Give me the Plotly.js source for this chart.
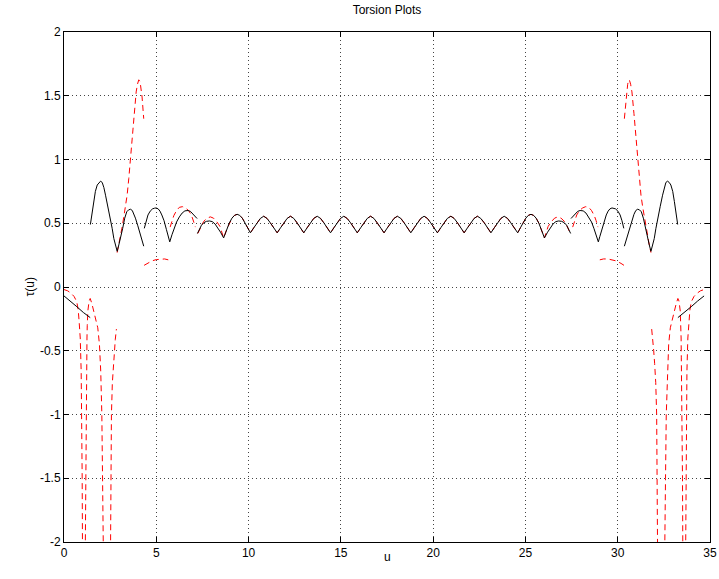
<!DOCTYPE html>
<html>
<head>
<meta charset="utf-8">
<script src="https://cdn.plot.ly/plotly-3.0.1.min.js"></script>
<style>
html,body{margin:0;padding:0;background:#fff;}
#chart{width:719px;height:579px;}
</style>
</head>
<body>
<div id="chart"></div>
<script>
// ---- tick labels ----
const xTickVals = [0, 5, 10, 15, 20, 25, 30, 35];
const xTickText = ['0', '5', '10', '15', '20', '25', '30', '35'];
const yTickVals = [-2, -1.5, -1, -0.5, 0, 0.5, 1, 1.5, 2];
const yTickText = ['-2', '-1.5', '-1', '-0.5', '0', '0.5', '1', '1.5', '2'];

// ---- black solid curve (segments) ----
const blackU1 = [0.00, 0.35, 0.70, 1.05, 1.42];
const blackTau1 = [-0.07, -0.11, -0.155, -0.20, -0.24];

const blackU2 = [1.43, 1.52, 1.61, 1.70, 1.80, 1.89, 1.98, 2.07, 2.16, 2.25, 2.38, 2.52, 2.61, 2.70, 2.79, 2.88, 2.97, 3.06, 3.18, 3.29, 3.40, 3.50, 3.60, 3.70, 3.80, 3.87, 4.00, 4.14, 4.23, 4.32];
const blackTau2 = [0.49, 0.59, 0.67, 0.75, 0.80, 0.82, 0.83, 0.82, 0.78, 0.72, 0.63, 0.54, 0.46, 0.38, 0.33, 0.28, 0.33, 0.38, 0.46, 0.54, 0.59, 0.605, 0.61, 0.60, 0.57, 0.54, 0.48, 0.41, 0.365, 0.32];

const blackU3 = [4.35, 4.45, 4.55, 4.67, 4.80, 4.90, 4.99, 5.10, 5.20, 5.30, 5.42, 5.55, 5.65, 5.73, 5.85, 5.97, 6.10, 6.25, 6.40, 6.55, 6.72, 6.85, 6.98, 7.10, 7.21];
const blackTau3 = [0.46, 0.52, 0.565, 0.595, 0.613, 0.618, 0.62, 0.613, 0.595, 0.565, 0.52, 0.45, 0.395, 0.354, 0.41, 0.46, 0.51, 0.55, 0.58, 0.597, 0.60, 0.593, 0.575, 0.555, 0.537];

const blackU4 = [7.23, 7.33, 7.45, 7.58, 7.72, 7.88, 8.03, 8.18, 8.33, 8.48, 8.65, 8.80, 8.95, 9.10, 9.24, 9.38, 9.52, 9.66, 9.80, 9.95,
  10.10, 10.28, 10.46, 10.64, 10.82, 11.00, 11.18, 11.37,
  11.55, 11.73, 11.91, 12.09, 12.27, 12.45, 12.63, 12.81,
  12.99, 13.17, 13.35, 13.53, 13.72, 13.90, 14.08, 14.26,
  14.44, 14.62, 14.80, 14.98, 15.16, 15.34, 15.53, 15.71,
  15.89, 16.07, 16.25, 16.43, 16.61, 16.79, 16.97, 17.16,
  17.34, 17.52, 17.70, 17.88, 18.06, 18.25, 18.43, 18.61,
  18.79, 18.97, 19.15, 19.33, 19.51, 19.69, 19.87, 20.05,
  20.23, 20.41, 20.59, 20.77, 20.96, 21.14, 21.32, 21.50,
  21.68, 21.86, 22.04, 22.22, 22.40, 22.58, 22.77, 22.95,
  23.13, 23.31, 23.49, 23.67, 23.85, 24.03, 24.21, 24.40,
  24.58, 24.73, 24.88, 25.02, 25.16, 25.30, 25.44, 25.58, 25.73, 25.88, 26.03, 26.20, 26.35, 26.50, 26.65, 26.80, 26.96, 27.10, 27.23, 27.35, 27.45];
const blackTau4 = [0.42, 0.455, 0.485, 0.505, 0.515, 0.518, 0.513, 0.495, 0.465, 0.43, 0.385, 0.445, 0.50, 0.54, 0.562, 0.57, 0.562, 0.54, 0.505, 0.465,
  0.425, 0.464, 0.503, 0.538, 0.555, 0.538, 0.503, 0.464,
  0.425, 0.464, 0.503, 0.538, 0.555, 0.538, 0.503, 0.464,
  0.425, 0.464, 0.503, 0.538, 0.555, 0.538, 0.503, 0.464,
  0.425, 0.464, 0.503, 0.538, 0.555, 0.538, 0.503, 0.464,
  0.425, 0.464, 0.503, 0.538, 0.555, 0.538, 0.503, 0.464,
  0.425, 0.464, 0.503, 0.538, 0.555, 0.538, 0.503, 0.464,
  0.425, 0.464, 0.503, 0.538, 0.555, 0.538, 0.503, 0.464,
  0.425, 0.464, 0.503, 0.538, 0.555, 0.538, 0.503, 0.464,
  0.425, 0.464, 0.503, 0.538, 0.555, 0.538, 0.503, 0.464,
  0.425, 0.464, 0.503, 0.538, 0.555, 0.538, 0.503, 0.464,
  0.425, 0.465, 0.505, 0.54, 0.562, 0.57, 0.562, 0.54, 0.50, 0.445, 0.385, 0.43, 0.465, 0.495, 0.513, 0.518, 0.515, 0.505, 0.485, 0.455, 0.42];

const blackU5 = [27.47, 27.58, 27.70, 27.83, 27.96, 28.13, 28.28, 28.43, 28.58, 28.71, 28.83, 28.95, 29.03, 29.13, 29.26, 29.38, 29.48, 29.58, 29.69, 29.78, 29.88, 30.01, 30.13, 30.23, 30.33];
const blackTau5 = [0.537, 0.555, 0.575, 0.593, 0.60, 0.597, 0.58, 0.55, 0.51, 0.46, 0.41, 0.354, 0.395, 0.45, 0.52, 0.565, 0.595, 0.613, 0.62, 0.618, 0.613, 0.595, 0.565, 0.52, 0.46];

const blackU6 = [30.36, 30.45, 30.54, 30.68, 30.81, 30.88, 30.98, 31.08, 31.18, 31.28, 31.39, 31.50, 31.62, 31.71, 31.80, 31.89, 31.98, 32.07, 32.16, 32.30, 32.43, 32.52, 32.61, 32.70, 32.79, 32.88, 32.98, 33.07, 33.16, 33.25];
const blackTau6 = [0.32, 0.365, 0.41, 0.48, 0.54, 0.57, 0.60, 0.61, 0.605, 0.59, 0.54, 0.46, 0.38, 0.33, 0.28, 0.33, 0.38, 0.46, 0.54, 0.63, 0.72, 0.78, 0.82, 0.83, 0.82, 0.80, 0.75, 0.67, 0.59, 0.49];

const blackU7 = [33.26, 33.63, 33.98, 34.33, 34.68];
const blackTau7 = [-0.24, -0.20, -0.155, -0.11, -0.07];

// ---- red dashed curve (segments) ----
const redU1 = [0.00, 0.20, 0.39, 0.55, 0.69, 0.77, 0.82, 0.88, 0.93, 0.96, 0.985, 1.00, 1.01];
const redTau1 = [-0.02, -0.03, -0.05, -0.075, -0.115, -0.18, -0.27, -0.40, -0.66, -1.00, -1.50, -2.00, -2.30];

const redU2 = [1.14, 1.155, 1.17, 1.18, 1.22, 1.235, 1.245, 1.26, 1.29, 1.36, 1.42, 1.51, 1.60, 1.69, 1.83, 1.92, 1.99, 2.05, 2.09, 2.14, 2.15];
const redTau2 = [-2.30, -2.00, -1.50, -1.00, -0.70, -0.55, -0.40, -0.30, -0.19, -0.11, -0.09, -0.13, -0.18, -0.23, -0.32, -0.45, -0.66, -1.00, -1.50, -2.00, -2.30];

const redU3 = [2.51, 2.52, 2.54, 2.57, 2.62, 2.68, 2.73, 2.78, 2.84];
const redTau3 = [-2.30, -2.00, -1.50, -1.00, -0.75, -0.60, -0.50, -0.41, -0.33];

const redU4 = [2.88, 2.97, 3.06, 3.15, 3.24, 3.33, 3.42, 3.51, 3.56, 3.65, 3.72, 3.80, 3.91, 3.98, 4.05, 4.10, 4.14, 4.23, 4.32];
const redTau4 = [0.27, 0.33, 0.40, 0.47, 0.55, 0.63, 0.72, 0.85, 0.94, 1.10, 1.23, 1.36, 1.53, 1.59, 1.625, 1.615, 1.59, 1.49, 1.32];

const redU5 = [4.34, 4.50, 4.77, 5.00, 5.22, 5.45, 5.65];
const redTau5 = [0.17, 0.185, 0.205, 0.215, 0.22, 0.22, 0.213];

const redU6 = [5.75, 5.85, 5.95, 6.10, 6.25, 6.42, 6.58, 6.75, 6.90, 7.03, 7.12];
const redTau6 = [0.47, 0.52, 0.56, 0.60, 0.625, 0.63, 0.62, 0.60, 0.565, 0.51, 0.47];

const redU7 = [7.25, 7.40, 7.57, 7.75, 7.93, 8.10, 8.29, 8.45];
const redTau7 = [0.42, 0.47, 0.515, 0.54, 0.55, 0.54, 0.51, 0.475];

// middle: red runs under the black curve from u = 8.65 to u = 26.03 (taken from blackU4/blackTau4)

const redU8 = [26.23, 26.39, 26.58, 26.75, 26.93, 27.11, 27.28, 27.43];
const redTau8 = [0.475, 0.51, 0.54, 0.55, 0.54, 0.515, 0.47, 0.42];

const redU9 = [27.56, 27.65, 27.78, 27.93, 28.10, 28.26, 28.43, 28.58, 28.73, 28.83, 28.93];
const redTau9 = [0.47, 0.51, 0.565, 0.60, 0.62, 0.63, 0.625, 0.60, 0.56, 0.52, 0.47];

const redU10 = [29.03, 29.23, 29.46, 29.68, 29.91, 30.18, 30.34];
const redTau10 = [0.213, 0.22, 0.22, 0.215, 0.205, 0.185, 0.17];

const redU11 = [30.36, 30.45, 30.54, 30.58, 30.63, 30.70, 30.77, 30.88, 30.96, 31.03, 31.12, 31.17, 31.26, 31.35, 31.44, 31.53, 31.62, 31.71, 31.80];
const redTau11 = [1.32, 1.49, 1.59, 1.615, 1.625, 1.59, 1.53, 1.36, 1.23, 1.10, 0.94, 0.85, 0.72, 0.63, 0.55, 0.47, 0.40, 0.33, 0.27];

const redU12 = [31.84, 31.90, 31.95, 32.00, 32.06, 32.11, 32.14, 32.16, 32.17];
const redTau12 = [-0.33, -0.41, -0.50, -0.60, -0.75, -1.00, -1.50, -2.00, -2.30];

const redU13 = [32.53, 32.54, 32.59, 32.63, 32.69, 32.76, 32.85, 32.99, 33.08, 33.17, 33.26, 33.32, 33.39, 33.42, 33.435, 33.445, 33.46, 33.50, 33.51, 33.525, 33.54];
const redTau13 = [-2.30, -2.00, -1.50, -1.00, -0.66, -0.45, -0.32, -0.23, -0.18, -0.13, -0.09, -0.11, -0.19, -0.30, -0.40, -0.55, -0.70, -1.00, -1.50, -2.00, -2.30];

const redU14 = [33.67, 33.68, 33.695, 33.72, 33.75, 33.80, 33.86, 33.91, 33.99, 34.13, 34.29, 34.48, 34.68];
const redTau14 = [-2.30, -2.00, -1.50, -1.00, -0.66, -0.40, -0.27, -0.18, -0.115, -0.075, -0.05, -0.03, -0.02];

// ---- assemble ----
function joinSegments(segs) {
  const xs = [], ys = [];
  segs.forEach((s, i) => {
    if (i > 0) { xs.push(null); ys.push(null); }
    for (let k = 0; k < s[0].length; k++) { xs.push(s[0][k]); ys.push(s[1][k]); }
  });
  return [xs, ys];
}

const redMidU = [], redMidTau = [];
blackU4.forEach((u, i) => { if (u >= 8.649 && u <= 26.031) { redMidU.push(u); redMidTau.push(blackTau4[i]); } });

const black = joinSegments([
  [blackU1, blackTau1], [blackU2, blackTau2], [blackU3, blackTau3], [blackU4, blackTau4],
  [blackU5, blackTau5], [blackU6, blackTau6], [blackU7, blackTau7]
]);
const red = joinSegments([
  [redU1, redTau1], [redU2, redTau2], [redU3, redTau3], [redU4, redTau4], [redU5, redTau5], [redU6, redTau6],
  [redU7.concat(redMidU, redU8), redTau7.concat(redMidTau, redTau8)],
  [redU9, redTau9], [redU10, redTau10], [redU11, redTau11], [redU12, redTau12], [redU13, redTau13], [redU14, redTau14]
]);

const traces = [
  { x: red[0], y: red[1], type: 'scatter', mode: 'lines', connectgaps: false,
    line: { color: 'rgb(255,0,0)', width: 1, dash: '6px,4px' }, hoverinfo: 'skip', showlegend: false },
  { x: black[0], y: black[1], type: 'scatter', mode: 'lines', connectgaps: false,
    line: { color: '#000000', width: 1 }, hoverinfo: 'skip', showlegend: false }
];

const fontFam = 'Liberation Sans, Arial, Helvetica, sans-serif';
const axisCommon = {
  showline: true, linecolor: '#000', linewidth: 1, mirror: 'ticks',
  ticks: 'inside', ticklen: 5, tickwidth: 1, tickcolor: '#000',
  showgrid: true, gridcolor: '#444', gridwidth: 1, griddash: '1px,3px',
  zeroline: false, tickfont: { family: fontFam, size: 12, color: '#000' }
};

const layout = {
  width: 719, height: 579,
  margin: { l: 64, r: 9, t: 32, b: 37 },
  paper_bgcolor: '#fff', plot_bgcolor: '#fff',
  title: { text: 'Torsion Plots', font: { family: fontFam, size: 12, color: '#000' },
           x: 0.5, xref: 'paper', y: 0.983, yref: 'container', yanchor: 'middle' },
  xaxis: Object.assign({}, axisCommon, {
    range: [0, 35], tickvals: xTickVals, ticktext: xTickText
  }),
  yaxis: Object.assign({}, axisCommon, {
    range: [-2, 2], tickvals: yTickVals, ticktext: yTickText
  }),
  annotations: [
    { text: 'u', xref: 'paper', yref: 'paper', x: 0.5, y: -0.03, xanchor: 'center', yanchor: 'middle',
      showarrow: false, font: { family: fontFam, size: 12, color: '#000' } },
    { text: 'τ(u)', xref: 'paper', yref: 'paper', x: -0.052, y: 0.5, xanchor: 'center', yanchor: 'middle',
      textangle: -90, showarrow: false, font: { family: fontFam, size: 12, color: '#000' } }
  ],
  showlegend: false
};

Plotly.newPlot('chart', traces, layout, { displayModeBar: false, staticPlot: true });
</script>
</body>
</html>
